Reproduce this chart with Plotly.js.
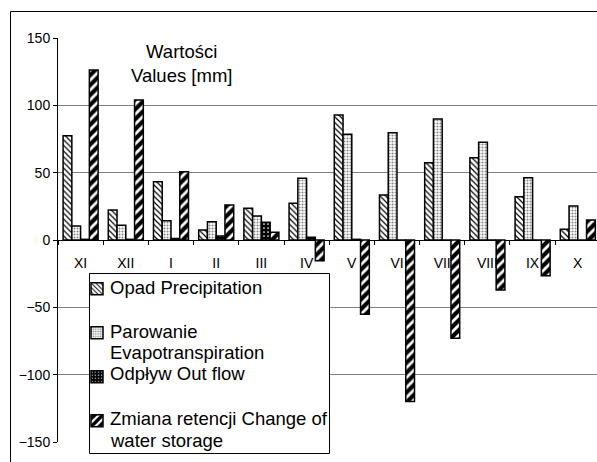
<!DOCTYPE html>
<html><head><meta charset="utf-8">
<script src="https://cdn.plot.ly/plotly-3.0.1.min.js"></script>
<style>html,body{margin:0;padding:0;overflow:hidden;background:#fff}</style>
</head><body><div id="chart" style="width:597px;height:462px"></div>
<script>
// ---- data ----
const months = ['XI','XII','I','II','III','IV','V','VI','VII','VIII','IX','X'];
const precipitation = [77.4, 22.3, 43.3, 7.4, 23.5, 27.2, 92.8, 33.4, 57.4, 61.1, 32.2, 7.9];
const evapotranspiration = [10.4, 10.9, 14.3, 13.6, 17.8, 45.8, 78.5, 79.7, 89.8, 72.5, 46.3, 25.2];
const outflow = [0.5, 0.5, 1.2, 3, 13.1, 2, 0.5, 0, 0, 0, 0, 0];
const storageChange = [126.2, 104, 50.7, 26, 5.7, -15.4, -55.2, -120, -73, -37.1, -26.5, 14.8];
const seriesNames = ['Opad Precipitation', 'Parowanie Evapotranspiration', 'Odpływ Out flow', 'Zmiana retencji Change of water storage'];
const legendLines = [['Opad Precipitation'], ['Parowanie', 'Evapotranspiration'], ['Odpływ Out flow'], ['Zmiana retencji Change of', 'water storage']];
const titleText = 'Wartości<br>Values [mm]';

// ---- layout helpers (pixels -> paper) ----
const W = 597, H = 462, L = 58, R = 0, T = 38, B = 20;
const PW = W - L - R, PH = H - T - B;
const px = x => (x - L) / PW;
const py = y => (H - B - y) / PH;
const FONT = 'Liberation Sans, Arial, sans-serif';

const styles = [
  {color: 'white', line: {color: 'black', width: 1.5}, pattern: {shape: '\\', fgcolor: 'black', bgcolor: 'white', size: 4, solidity: 0.3}},
  {color: 'white', line: {color: 'black', width: 1.5}, pattern: {shape: '.', fgcolor: '#888', bgcolor: 'white', size: 3, solidity: 0.4}},
  {color: 'black', line: {color: 'black', width: 1.5}, pattern: {shape: '.', fgcolor: 'white', bgcolor: 'black', size: 4, solidity: 0.15}},
  {color: 'white', line: {color: 'black', width: 1.5}, pattern: {shape: '/', fgcolor: 'black', bgcolor: 'white', size: 7, solidity: 0.6}}
];
const values = [precipitation, evapotranspiration, outflow, storageChange];

const traces = values.map((v, i) => ({
  type: 'bar', x: months, y: v, name: '&nbsp;<br>&nbsp;',
  marker: styles[i], hoverinfo: 'x+y'
}));

// legend text lines (y centers in px)
const lineY = [[287], [331.5, 352.5], [373], [418.5, 440]];
const annotations = [{
  xref: 'paper', yref: 'paper', x: px(181), y: py(63.5), xanchor: 'center', yanchor: 'middle',
  text: titleText, showarrow: false, align: 'center', font: {family: FONT, size: 18.5, color: 'black'}
}];
legendLines.forEach((lines, i) => lines.forEach((t, j) => annotations.push({
  xref: 'paper', yref: 'paper', x: px(108), y: py(lineY[i][j]), xanchor: 'left', yanchor: 'middle',
  text: t, showarrow: false, font: {family: FONT, size: 18.5, color: 'black'}
})));

const layout = {
  width: W, height: H,
  margin: {l: L, r: R, t: T, b: B, pad: 0},
  paper_bgcolor: 'white', plot_bgcolor: 'white',
  font: {family: FONT, size: 14, color: 'black'},
  barmode: 'group', bargap: 0.225, bargroupgap: 0,
  showlegend: true,
  legend: {x: px(77), y: py(272), xanchor: 'left', yanchor: 'top', valign: 'top',
    bgcolor: 'rgba(0,0,0,0)', borderwidth: 0, font: {family: FONT, size: 15.77}, traceorder: 'normal'},
  xaxis: {type: 'category', range: [-0.5, 11.425], anchor: 'free', position: 0.5,
    showline: true, linecolor: 'black', linewidth: 1, ticks: 'outside', tickson: 'boundaries',
    ticklen: 4, tickcolor: 'black', showgrid: false, zeroline: false, layer: 'below traces',
    tickfont: {family: FONT, size: 14, color: 'black'}, ticklabelstandoff: 10, fixedrange: true},
  yaxis: {range: [-150, 150], tick0: 0, dtick: 50, showline: true, linecolor: 'black', linewidth: 1,
    ticks: 'outside', ticklen: 4, tickcolor: 'black', showgrid: true, gridcolor: '#808080', gridwidth: 1,
    zeroline: false, tickfont: {family: FONT, size: 14, color: 'black'}, fixedrange: true},
  shapes: [
    {type: 'rect', xref: 'paper', yref: 'paper', x0: px(10.5), x1: px(640), y0: py(480), y1: py(11.5),
     line: {color: 'black', width: 1}, fillcolor: 'rgba(0,0,0,0)'},
    {type: 'rect', xref: 'paper', yref: 'paper', x0: px(89.5), x1: px(329.5), y0: py(453.5), y1: py(273.5),
     line: {color: 'black', width: 1}, fillcolor: 'white'}
  ],
  annotations: annotations
};

Plotly.newPlot('chart', traces, layout, {staticPlot: true, displayModeBar: false});
</script>
</body></html>
